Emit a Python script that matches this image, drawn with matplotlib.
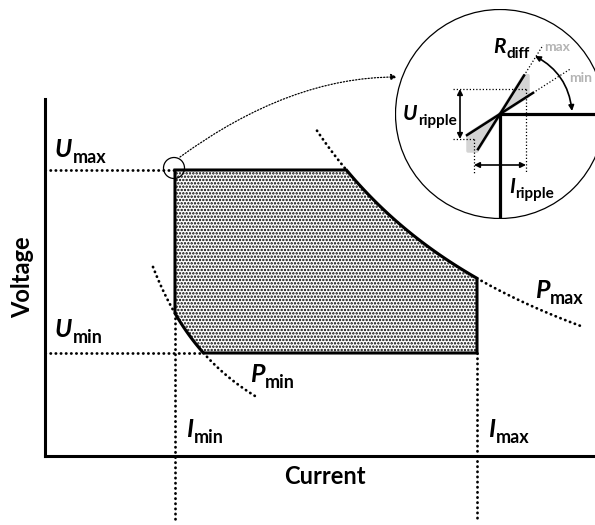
import numpy as np
import matplotlib
matplotlib.use('Agg')
import matplotlib.pyplot as plt
from matplotlib.patches import Polygon, Circle, FancyArrowPatch
from matplotlib.path import Path

FONT = ['Lato', 'DejaVu Sans']
plt.rcParams['hatch.linewidth'] = 1.15

# operating window, drawing units (P = U * I)
I_min, I_max = 120, 422
U_min, U_max = 167, 350
P_min, P_max = 24800, 102000
# current range of the dotted power curves
P_min_span = [98, 203]
P_max_span = [262, 528]

# zoomed corner (inset units, corner at 0,0)
I_ripple = 26
U_ripple = 25
R_max = 1.6
R_min = 0.64
R_max_solid = [-22, 24]
R_min_solid = [-33, 33]
R_max_dotted = 43
R_min_dotted = 71
gray_box = [-32, 28, -37, 38.4]   # x_lo, x_hi, y_lo, y_hi

DOT = dict(color='black', lw=2.0, ls=(0, (0.1, 1.75)), dash_capstyle='round')
FINE = dict(color='black', lw=0.9, ls=(0, (1, 1.6)))


def sym(a, x, y, main, sub, size=18, subsize=13, color='black', drop=-3.5):
    # bold italic symbol with bold subscript
    t = a.text(x, y, main, fontsize=size, fontweight='bold', fontstyle='italic',
               color=color, va='baseline', ha='left', family=FONT)
    a.annotate(sub, xy=(1, 0), xycoords=t, xytext=(0.5, drop), textcoords='offset points',
               fontsize=subsize, fontweight='bold', color=color, va='bottom',
               ha='left', family=FONT)


fig = plt.figure(figsize=(5.95, 5.25), dpi=100)
ax = fig.add_axes([0, 0, 1, 1])
ax.set_xlim(-55, 540)
ax.set_ylim(-5, 520)
for s in ['top', 'right']:
    ax.spines[s].set_visible(False)
ax.spines['left'].set_position(('data', -10))
ax.spines['left'].set_bounds(64, 421)
ax.spines['bottom'].set_position(('data', 64))
ax.spines['bottom'].set_bounds(-10, 540)
for s in ['left', 'bottom']:
    ax.spines[s].set_linewidth(2.2)
ax.set_xticks([])
ax.set_yticks([])
ax.patch.set_alpha(0)

# window outline
i_hi = np.linspace(P_max / U_max, I_max, 40)
i_lo = np.linspace(P_min / U_min, I_min, 30)
verts = [(I_min, U_max)]
verts += list(zip(i_hi, P_max / i_hi))
verts += [(I_max, U_min)]
verts += list(zip(i_lo, P_min / i_lo))
ax.add_patch(Polygon(verts, closed=True, facecolor='white', edgecolor='black',
                     hatch='.....', lw=2.2, joinstyle='miter', zorder=2))

# power curves
i = np.linspace(P_max_span[0], P_max / U_max, 20)
ax.plot(i, P_max / i, **DOT)
i = np.linspace(I_max, P_max_span[1], 40)
ax.plot(i, P_max / i, **DOT)
i = np.linspace(P_min_span[0], I_min, 20)
ax.plot(i, P_min / i, **DOT)
i = np.linspace(P_min / U_min, P_min_span[1], 30)
ax.plot(i, P_min / i, **DOT)

# limit lines
ax.plot([-10, I_min], [U_max, U_max], **DOT)
ax.plot([-10, P_min / U_min], [U_min, U_min], **DOT)
ax.plot([I_min, I_min], [P_min / I_min, -1], **DOT)
ax.plot([I_max, I_max], [U_min, -1], **DOT)

sym(ax, 0, 363, 'U', 'max')
sym(ax, 0, 183, 'U', 'min')
sym(ax, 131, 83, 'I', 'min')
sym(ax, 433, 83, 'I', 'max')
sym(ax, 195, 138, 'P', 'min')
sym(ax, 480, 222, 'P', 'max')
ax.text(270, 43, 'Current', fontsize=17, fontweight='bold', ha='center', va='center', family=FONT)
ax.text(-32, 243, 'Voltage', fontsize=17, fontweight='bold', ha='center', va='center',
        rotation=90, family=FONT)

# pointer to the zoom
ax.add_patch(Circle((119, 352), 10.5, fill=False, lw=0.9, zorder=3))
conn = Path([(125, 363), (235, 443), (342, 443)], [Path.MOVETO, Path.CURVE3, Path.CURVE3])
ax.add_patch(FancyArrowPatch(path=conn, arrowstyle='-|>', mutation_scale=9, lw=0.9,
                             ls=(0, (1, 1.5)), color='black', zorder=3))

# inset
axi = fig.add_axes([395 / 595, (525 - 219) / 525, 210 / 595, 210 / 525])
axi.set_xlim(-105, 105)
axi.set_ylim(-105, 105)
axi.set_aspect('equal')
axi.axis('off')
ring = Circle((0, 0), 104.5, facecolor='white', edgecolor='black', lw=0.9, zorder=0)
axi.add_patch(ring)

x_lo, x_hi, y_lo, y_hi = gray_box
upper = [(0, 0), (y_hi / R_max, y_hi), (x_hi, y_hi), (x_hi, R_min * x_hi)]
lower = [(0, 0), (x_lo, R_min * x_lo), (x_lo, y_lo), (y_lo / R_max, y_lo)]
for g in [upper, lower]:
    axi.add_patch(Polygon(g, closed=True, facecolor='#d4d4d4', edgecolor='#d4d4d4',
                          lw=2.5, joinstyle='round', zorder=1))

corner, = axi.plot([110, 0, 0], [0, 0, -110], color='black', lw=2.3,
                   solid_joinstyle='miter', zorder=3)
corner.set_clip_path(ring)

x = np.array(R_max_solid)
axi.plot(x, R_max * x, color='black', lw=1.8, zorder=4)
x = np.array(R_min_solid)
axi.plot(x, R_min * x, color='black', lw=1.8, zorder=4)
x = np.array([R_max_solid[1], R_max_dotted])
axi.plot(x, R_max * x, **FINE)
x = np.array([R_min_solid[1], R_min_dotted])
axi.plot(x, R_min * x, **FINE)

axi.plot([-47, I_ripple + 1], [U_ripple, U_ripple], **FINE)
axi.plot([-47, -I_ripple], [-U_ripple, -U_ripple], **FINE)
axi.plot([-I_ripple, -I_ripple], [-U_ripple, -59], **FINE)
axi.plot([I_ripple, I_ripple], [U_ripple, -59], **FINE)

arr = dict(arrowstyle='<|-|>', lw=1.2, color='black', mutation_scale=8, shrinkA=0, shrinkB=0)
axi.annotate('', xy=(-40, -U_ripple), xytext=(-40, U_ripple), arrowprops=arr)
axi.annotate('', xy=(I_ripple, -51), xytext=(-I_ripple, -51), arrowprops=arr)
axi.annotate('', xy=(72, 3), xytext=(35, 58),
             arrowprops=dict(arr, connectionstyle='arc3,rad=-0.26'))

sym(axi, -7, 61, 'R', 'diff', size=15, subsize=11, drop=-3)
sym(axi, -97, -6, 'U', 'ripple', size=15, subsize=11, drop=-3)
sym(axi, 9, -79, 'I', 'ripple', size=15, subsize=11, drop=-3)
axi.text(44, 67, 'max', fontsize=10, fontweight='bold', color='#b4b4b4', va='center', family=FONT)
axi.text(69, 36, 'min', fontsize=10, fontweight='bold', color='#b4b4b4', va='center', family=FONT)

fig.savefig('out.png', dpi=100)
